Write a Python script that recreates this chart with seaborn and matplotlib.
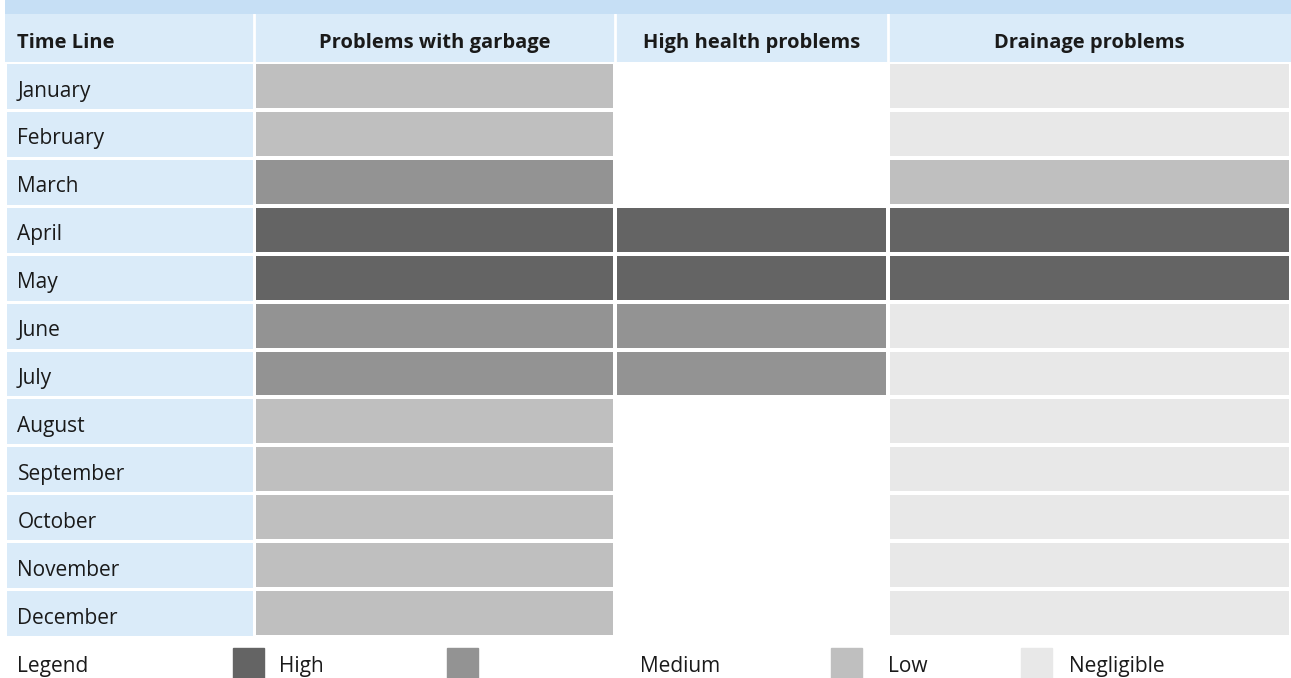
import numpy as np
import pandas as pd
import seaborn as sns
import matplotlib.pyplot as plt
from matplotlib.colors import ListedColormap
from matplotlib.patches import Rectangle

# data
months = ["January", "February", "March", "April", "May", "June", "July",
          "August", "September", "October", "November", "December"]
columns = ["Problems with garbage", "High health problems", "Drainage problems"]
# 0 = none, 1 = Negligible, 2 = Low, 3 = Medium, 4 = High
garbage = [2, 2, 3, 4, 4, 3, 3, 2, 2, 2, 2, 2]
health = [0, 0, 0, 4, 4, 3, 3, 0, 0, 0, 0, 0]
drainage = [1, 1, 2, 4, 4, 1, 1, 1, 1, 1, 1, 1]
legend_labels = ["High", "Medium", "Low", "Negligible"]
legend_levels = [4, 3, 2, 1]

df = pd.DataFrame({columns[0]: garbage, columns[1]: health, columns[2]: drainage},
                  index=months)

level_colors = ["#ffffff", "#e8e8e8", "#bfbfbf", "#939393", "#646464"]
cmap = ListedColormap(level_colors)
blue = "#daebf9"
band = "#c6dff5"
txt = "#1a1a1a"
fs = 15
fs_head = 14.5

sns.set_theme(style="white")
plt.rcParams["font.family"] = ["Open Sans", "DejaVu Sans"]

W, H = 1291, 678
fig = plt.figure(figsize=(W / 100, H / 100), dpi=100)

def px_axes(x0, y0, x1, y1):
    ax = fig.add_axes([x0 / W, 1 - y1 / H, (x1 - x0) / W, (y1 - y0) / H])
    ax.set_axis_off()
    return ax

col_edges = [5, 254, 615, 888, 1291]
top, head, y0, y1 = 0, 14, 62, 637

# top band
ax_band = px_axes(5, top, W, head)
ax_band.add_patch(Rectangle((0, 0), 1, 1, color=band, transform=ax_band.transAxes))

# header row
ax_head = px_axes(5, head, W, y0)
ax_head.set_xlim(5, W)
ax_head.set_ylim(0, 1)
ax_head.add_patch(Rectangle((5, 0), W - 5, 1, color=blue))
for x in col_edges[1:-1]:
    ax_head.axvline(x - 0.5, color="white", lw=2)
ax_head.text(17, 0.29, "Time Line", fontsize=fs_head, fontweight="bold",
             va="baseline", ha="left", color=txt)
for i, c in enumerate(columns):
    ax_head.text((col_edges[i + 1] + col_edges[i + 2]) / 2, 0.29, c, fontsize=fs_head,
                 fontweight="bold", va="baseline", ha="center", color=txt)

# month label column
ax_lab = px_axes(col_edges[0], y0, col_edges[1], y1)
sns.heatmap(np.zeros((len(months), 1)), ax=ax_lab, cmap=ListedColormap([blue]),
            cbar=False, linewidths=2, linecolor="white", xticklabels=False,
            yticklabels=False)
for i, m in enumerate(months):
    ax_lab.text(0.05, i + 0.72, m, fontsize=fs, va="baseline", ha="left", color=txt)

# one heatmap per problem column (columns have different widths)
for i, c in enumerate(columns):
    ax = px_axes(col_edges[i + 1], y0, col_edges[i + 2], y1)
    sns.heatmap(df[[c]], ax=ax, cmap=cmap, vmin=-0.5, vmax=4.5, cbar=False,
                linewidths=1.5, linecolor="white", xticklabels=False,
                yticklabels=False)
    ax.set_xlabel("")
    ax.set_ylabel("")

# legend row
ax_leg = px_axes(0, y1, W, H)
ax_leg.set_xlim(0, W)
ax_leg.set_ylim(H, y1)
ax_leg.text(17, 672, "Legend", fontsize=fs, va="baseline", ha="left", color=txt)
sw_x = [233, 447, 831, 1021]
lab_x = [279, 640, 888, 1069]
for sx, lx, lab, lv in zip(sw_x, lab_x, legend_labels, legend_levels):
    ax_leg.add_patch(Rectangle((sx, 648), 31, 31, color=level_colors[lv]))
    ax_leg.text(lx, 672, lab, fontsize=fs, va="baseline", ha="left", color=txt)

fig.savefig("out.png", dpi=100)
